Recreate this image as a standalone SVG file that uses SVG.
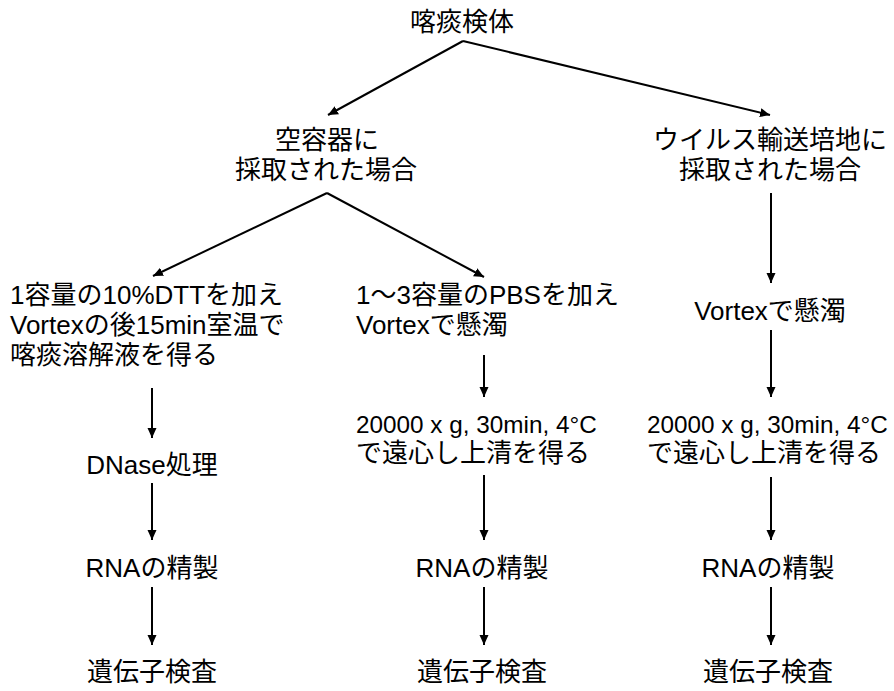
<svg xmlns="http://www.w3.org/2000/svg" width="894" height="691" viewBox="0 0 894 691">
<style>
text{font-family:"Liberation Sans","Noto Sans CJK JP",sans-serif;font-size:26px;fill:#000}
.c{text-anchor:middle}
.s{text-anchor:start}
.num{font-size:24.3px}
.ln{stroke:#000;stroke-width:2;fill:none;marker-end:url(#ah)}
</style>
<defs>
<marker id="ah" viewBox="0 0 10 10" refX="10" refY="5" markerWidth="10" markerHeight="10" markerUnits="userSpaceOnUse" orient="auto">
<path d="M0,0.5 L10,5 L0,9.5 z" fill="#000"/>
</marker>
</defs>
<rect width="894" height="691" fill="#fff"/>
<g id="connectors">
<line class="ln" x1="463" y1="41" x2="328" y2="115"/>
<line class="ln" x1="463" y1="41" x2="770" y2="115"/>
<line class="ln" x1="327" y1="193" x2="153" y2="276"/>
<line class="ln" x1="327" y1="193" x2="484" y2="277"/>
<line class="ln" x1="771" y1="193" x2="771" y2="283"/>
<line class="ln" x1="152" y1="388" x2="152" y2="438"/>
<line class="ln" x1="152" y1="483" x2="152" y2="540"/>
<line class="ln" x1="152" y1="587" x2="152" y2="645"/>
<line class="ln" x1="484" y1="355" x2="484" y2="397"/>
<line class="ln" x1="484" y1="475" x2="484" y2="540"/>
<line class="ln" x1="484" y1="587" x2="484" y2="645"/>
<line class="ln" x1="771" y1="330" x2="771" y2="397"/>
<line class="ln" x1="771" y1="477" x2="771" y2="540"/>
<line class="ln" x1="771" y1="587" x2="771" y2="645"/>
</g>
<g id="n-root"><text class="c" x="462" y="31">喀痰検体</text></g>
<g id="n-empty"><text class="c" x="327" y="149">空容器に</text><text class="c" x="326" y="179">採取された場合</text></g>
<g id="n-vtm"><text class="c" x="770" y="149">ウイルス輸送培地に</text><text class="c" x="770" y="179">採取された場合</text></g>
<g id="n-dtt"><text class="s" x="10" y="304">1容量の10%DTTを加え</text><text class="s" x="10" y="334">Vortexの後15min室温で</text><text class="s" x="10" y="364">喀痰溶解液を得る</text></g>
<g id="n-pbs"><text class="s" x="356" y="304">1〜3容量のPBSを加え</text><text class="s" x="356" y="334">Vortexで懸濁</text></g>
<g id="n-vortex-r"><text class="c" x="770" y="320">Vortexで懸濁</text></g>
<g id="n-dnase"><text class="c" x="152" y="474">DNase処理</text></g>
<g id="n-cent-m"><text class="s num" x="356" y="433">20000 x g, 30min, 4°C</text><text class="s" x="356" y="462">で遠心し上清を得る</text></g>
<g id="n-cent-r"><text class="s num" x="647" y="433">20000 x g, 30min, 4°C</text><text class="s" x="647" y="462">で遠心し上清を得る</text></g>
<g id="n-rna-l"><text class="c" x="152" y="577">RNAの精製</text></g>
<g id="n-rna-m"><text class="c" x="482" y="577">RNAの精製</text></g>
<g id="n-rna-r"><text class="c" x="768" y="577">RNAの精製</text></g>
<g id="n-gene-l"><text class="c" x="152" y="681">遺伝子検査</text></g>
<g id="n-gene-m"><text class="c" x="482" y="681">遺伝子検査</text></g>
<g id="n-gene-r"><text class="c" x="768" y="681">遺伝子検査</text></g>
</svg>
